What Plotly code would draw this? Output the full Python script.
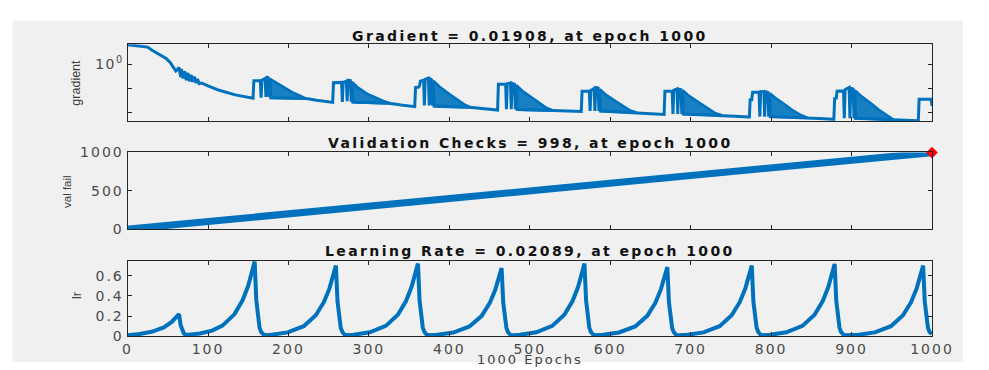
import plotly.graph_objects as go

# ---------------- data ----------------
# Gradient (log scale) - main line key points
grad_epochs = [
    0, 17, 25, 30, 35, 42, 48, 53, 57, 60, 62, 64, 66, 67, 69, 71, 73, 75, 77, 79, 81, 83, 85, 87, 89, 92,
    100, 114, 134, 152, 156,
    157, 165, 166, 167, 171, 172, 173, 175, 176, 177, 178, 222, 235, 245, 255,
    256, 266, 267, 268, 272, 273, 274, 277, 278, 279, 280, 325, 340, 357,
    358, 362, 363, 364, 368, 369, 370, 374, 375, 376, 378, 379, 380, 381, 425, 440, 460,
    461, 470, 471, 472, 476, 477, 478, 481, 482, 483, 484, 528, 545, 564,
    565, 574, 575, 576, 580, 581, 582, 585, 586, 587, 588, 632, 650, 667,
    668, 677, 678, 679, 683, 684, 685, 688, 689, 690, 691, 738, 755, 772,
    773, 774, 776, 777, 785, 786, 787, 791, 792, 793, 796, 797, 798, 799, 845, 860, 877,
    878, 879, 881, 882, 890, 891, 892, 897, 898, 899, 902, 903, 904, 905, 952, 967, 982,
    983, 984, 992, 999, 1000,
]
grad_values = [
    6.4, 5.6, 5.1, 3.9, 3.1, 2.36, 1.72, 1.2, 0.76, 0.53, 0.6, 0.74, 0.3, 0.64, 0.26, 0.52, 0.22, 0.44, 0.2, 0.37, 0.19, 0.31, 0.17, 0.25, 0.16, 0.17,
    0.13, 0.085, 0.055, 0.042, 0.040,
    0.21, 0.215, 0.042, 0.22, 0.26, 0.045, 0.31, 0.28, 0.045, 0.25, 0.042, 0.039, 0.033, 0.030, 0.027,
    0.175, 0.18, 0.028, 0.18, 0.2, 0.03, 0.22, 0.215, 0.029, 0.19, 0.028, 0.025, 0.021, 0.018,
    0.11, 0.115, 0.13, 0.2, 0.22, 0.02, 0.24, 0.27, 0.02, 0.26, 0.23, 0.02, 0.21, 0.019, 0.017, 0.015, 0.013,
    0.15, 0.155, 0.014, 0.16, 0.17, 0.014, 0.165, 0.15, 0.014, 0.14, 0.014, 0.0125, 0.012, 0.0115,
    0.078, 0.08, 0.012, 0.085, 0.1, 0.012, 0.11, 0.105, 0.012, 0.095, 0.012, 0.0103, 0.0095, 0.0086,
    0.078, 0.08, 0.009, 0.085, 0.096, 0.009, 0.095, 0.09, 0.009, 0.085, 0.009, 0.008, 0.0073, 0.0068,
    0.0068, 0.035, 0.035, 0.071, 0.072, 0.007, 0.074, 0.075, 0.007, 0.074, 0.07, 0.007, 0.066, 0.007, 0.0064, 0.0059, 0.0055,
    0.0055, 0.039, 0.04, 0.078, 0.08, 0.006, 0.09, 0.11, 0.006, 0.105, 0.095, 0.006, 0.085, 0.006, 0.0053, 0.005, 0.0047,
    0.0047, 0.036, 0.037, 0.036, 0.01908,
]

# Gradient dense oscillation regions (upper / lower envelope per cycle)
saw_epochs = [
    [177, 185, 195, 205, 215, 222],
    [279, 286, 298, 310, 318, 325],
    [380, 388, 400, 410, 418, 425],
    [483, 491, 503, 513, 521, 528],
    [587, 595, 607, 617, 625, 632],
    [690, 698, 710, 720, 730, 738],
    [798, 806, 818, 828, 837, 845],
    [904, 912, 924, 934, 944, 952],
]
saw_upper = [
    [0.25, 0.17, 0.11, 0.07, 0.05, 0.041],
    [0.19, 0.114, 0.061, 0.039, 0.031, 0.026],
    [0.21, 0.12, 0.06, 0.034, 0.023, 0.018],
    [0.14, 0.08, 0.042, 0.024, 0.016, 0.013],
    [0.095, 0.055, 0.03, 0.018, 0.0125, 0.0105],
    [0.085, 0.05, 0.027, 0.016, 0.010, 0.0082],
    [0.066, 0.04, 0.021, 0.012, 0.0082, 0.0065],
    [0.085, 0.05, 0.025, 0.0135, 0.008, 0.0056],
]
saw_lower = [
    [0.042, 0.041, 0.040, 0.039, 0.039, 0.039],
    [0.028, 0.027, 0.026, 0.025, 0.025, 0.025],
    [0.019, 0.018, 0.018, 0.017, 0.017, 0.017],
    [0.014, 0.013, 0.013, 0.0125, 0.0125, 0.0125],
    [0.012, 0.0115, 0.011, 0.0108, 0.0105, 0.0103],
    [0.009, 0.0088, 0.0086, 0.0084, 0.0082, 0.008],
    [0.007, 0.0068, 0.0067, 0.0066, 0.0065, 0.0064],
    [0.006, 0.0058, 0.0056, 0.0055, 0.0054, 0.0053],
]

# Validation checks
val_epochs = [0, 2, 1000]
val_values = [0, 0, 998]
val_final_epoch = [1000]
val_final_value = [998]

# Learning rate
lr_epochs = [
    0, 15, 30, 45, 55, 60, 64, 66, 68, 70, 73, 90, 105, 118, 133, 143, 150, 154, 158, 160, 162, 164, 166, 169, 172,
    179, 199, 219, 234, 244, 251, 255, 259, 261, 263, 265, 267, 270, 273,
    281, 301, 321, 336, 346, 353, 357, 361, 363, 365, 367, 369, 372, 375,
    385, 405, 425, 440, 450, 457, 461, 465, 467, 469, 471, 473, 476, 479,
    488, 508, 528, 543, 553, 560, 564, 568, 570, 572, 574, 576, 579, 582,
    591, 611, 631, 646, 656, 663, 667, 671, 673, 675, 677, 679, 682, 685,
    696, 716, 736, 751, 761, 768, 772, 776, 778, 780, 782, 784, 787, 790,
    799, 819, 839, 854, 864, 871, 875, 879, 881, 883, 885, 887, 890, 893,
    909, 929, 949, 964, 974, 981, 985, 989, 991, 993, 995, 997, 1000,
]
lr_values = [
    0.010, 0.021, 0.043, 0.087, 0.141, 0.18, 0.22, 0.108, 0.053, 0.026, 0.012, 0.027, 0.055, 0.105, 0.219, 0.356, 0.50, 0.61, 0.74, 0.36, 0.18, 0.087, 0.043, 0.016, 0.010,
    0.014, 0.0375, 0.099, 0.207, 0.337, 0.474, 0.576, 0.70, 0.343, 0.168, 0.083, 0.041, 0.014, 0.009,
    0.0145, 0.0385, 0.102, 0.213, 0.346, 0.487, 0.592, 0.72, 0.353, 0.173, 0.085, 0.042, 0.014, 0.009,
    0.0136, 0.036, 0.096, 0.199, 0.325, 0.457, 0.555, 0.675, 0.331, 0.162, 0.080, 0.039, 0.013, 0.009,
    0.0145, 0.0385, 0.102, 0.213, 0.346, 0.487, 0.592, 0.72, 0.353, 0.173, 0.085, 0.042, 0.014, 0.009,
    0.0138, 0.0367, 0.097, 0.202, 0.329, 0.464, 0.564, 0.685, 0.336, 0.164, 0.081, 0.040, 0.013, 0.009,
    0.014, 0.0375, 0.099, 0.207, 0.337, 0.474, 0.576, 0.70, 0.343, 0.168, 0.083, 0.041, 0.014, 0.009,
    0.0145, 0.0384, 0.102, 0.212, 0.345, 0.485, 0.590, 0.717, 0.351, 0.172, 0.085, 0.042, 0.014, 0.009,
    0.014, 0.0375, 0.099, 0.207, 0.337, 0.474, 0.576, 0.70, 0.343, 0.168, 0.083, 0.041, 0.02089,
]

x_ticks = [0, 100, 200, 300, 400, 500, 600, 700, 800, 900, 1000]
grad_major_ticks = [1]
grad_major_text = ["10<sup>0</sup>"]
grad_minor_ticks = [0.01, 0.1]
val_ticks = [0, 500, 1000]
lr_ticks = [0, 0.2, 0.4, 0.6]
lr_tick_text = ["0", "0.2", "0.4", "0.6"]

titles = ["Gradient = 0.01908, at epoch 1000",
          "Validation Checks = 998, at epoch 1000",
          "Learning Rate = 0.02089, at epoch 1000"]
ylabels = ["gradient", "val fail", "lr"]
xlabel = "1000 Epochs"

# ---------------- layout helpers ----------------
W, H = 989, 370
BLUE = "#0072BD"


def fx(p):
    return p / W


def fy(p):
    return 1 - p / H


def spaced(t, ls):
    return '<span style="letter-spacing:%.1fpx">%s</span>' % (ls, t)


fig = go.Figure()

# gradient oscillation bands
for ep, up, lo in zip(saw_epochs, saw_upper, saw_lower):
    fig.add_trace(go.Scatter(
        x=ep + ep[::-1], y=up + lo[::-1], fill="toself",
        fillcolor="rgba(0,114,189,0.9)", mode="lines",
        line=dict(color=BLUE, width=2.5), xaxis="x", yaxis="y", hoverinfo="skip"))

fig.add_trace(go.Scatter(x=grad_epochs, y=grad_values, mode="lines",
                         line=dict(color=BLUE, width=3), xaxis="x", yaxis="y"))

fig.add_trace(go.Scatter(x=val_epochs, y=val_values, mode="lines",
                         line=dict(color=BLUE, width=7), xaxis="x2", yaxis="y2"))
fig.add_trace(go.Scatter(x=val_final_epoch, y=val_final_value, mode="markers",
                         marker=dict(symbol="diamond", size=9, color="red"),
                         cliponaxis=False, xaxis="x2", yaxis="y2"))

fig.add_trace(go.Scatter(x=lr_epochs, y=lr_values, mode="lines",
                         line=dict(color=BLUE, width=4), xaxis="x3", yaxis="y3"))

xdom = [fx(126), fx(953)]
ydoms = [[fy(118), fy(38)], [fy(231), fy(151)], [fy(343), fy(264)]]

tickfont = dict(family="DejaVu Sans", size=14, color="#4a4a4a")
common = dict(showline=True, linecolor="#262626", linewidth=1, mirror="ticks",
              ticks="inside", ticklen=4, tickcolor="#262626", showgrid=False,
              zeroline=False, tickfont=tickfont)

x_text = [spaced(str(v), 2) for v in x_ticks]
val_text = [spaced(str(v), 2) for v in val_ticks]
lr_text = [spaced(t, 2) for t in lr_tick_text]
g_text = [spaced(t, 1.5) for t in grad_major_text]

fig.update_layout(
    width=W, height=H, margin=dict(l=0, r=0, t=0, b=0),
    paper_bgcolor="white", plot_bgcolor="white", showlegend=False,
    xaxis=dict(domain=xdom, anchor="y", range=[0, 1000], tickvals=x_ticks,
               showticklabels=False, **common),
    yaxis=dict(domain=ydoms[0], anchor="x", type="log", range=[-2.33, 0.82],
               tickvals=grad_major_ticks, ticktext=g_text,
               minor=dict(tickvals=grad_minor_ticks, ticks="inside", ticklen=4,
                          tickcolor="#262626", showgrid=False),
               **common),
    xaxis2=dict(domain=xdom, anchor="y2", range=[0, 1000], tickvals=x_ticks,
                showticklabels=False, **common),
    yaxis2=dict(domain=ydoms[1], anchor="x2", range=[0, 1000], tickvals=val_ticks,
                ticktext=val_text, **common),
    xaxis3=dict(domain=xdom, anchor="y3", range=[0, 1000], tickvals=x_ticks,
                ticktext=x_text, **common),
    yaxis3=dict(domain=ydoms[2], anchor="x3", range=[0, 0.75], tickvals=lr_ticks,
                ticktext=lr_text, **common),
    shapes=[dict(type="rect", xref="paper", yref="paper", x0=fx(8), x1=fx(985),
                 y0=0, y1=fy(13), fillcolor="#f0f0f0", line=dict(width=0), layer="below")],
)

ann = []
for t, yp in zip(titles, [29, 141, 254]):
    ann.append(dict(text="<b>" + spaced(t, 2.4) + "</b>", x=fx(540), y=fy(yp),
                    xref="paper", yref="paper",
                    showarrow=False, xanchor="center", yanchor="middle",
                    font=dict(family="DejaVu Sans", size=14, color="#111111")))
for t, xp, yp, fs in zip(ylabels, [73, 63, 73], [78, 192, 300], [12.5, 11.5, 13]):
    ann.append(dict(text=t, x=fx(xp), y=fy(yp), xref="paper", yref="paper", textangle=-90,
                    showarrow=False, xanchor="center", yanchor="middle",
                    font=dict(family="Liberation Sans", size=fs, color="#404040")))
ann.append(dict(text=spaced(xlabel, 2), x=fx(540), y=fy(367.5), xref="paper", yref="paper",
                showarrow=False, xanchor="center", yanchor="middle",
                font=dict(family="DejaVu Sans", size=13, color="#404040")))
fig.update_layout(annotations=ann)

post = ("document.documentElement.style.margin='0px';"
        "document.documentElement.style.overflow='hidden';"
        "document.body.style.margin='0px';"
        "document.body.style.overflow='hidden';")
fig.write_html("out.html", config={"displayModeBar": False}, post_script=post)
